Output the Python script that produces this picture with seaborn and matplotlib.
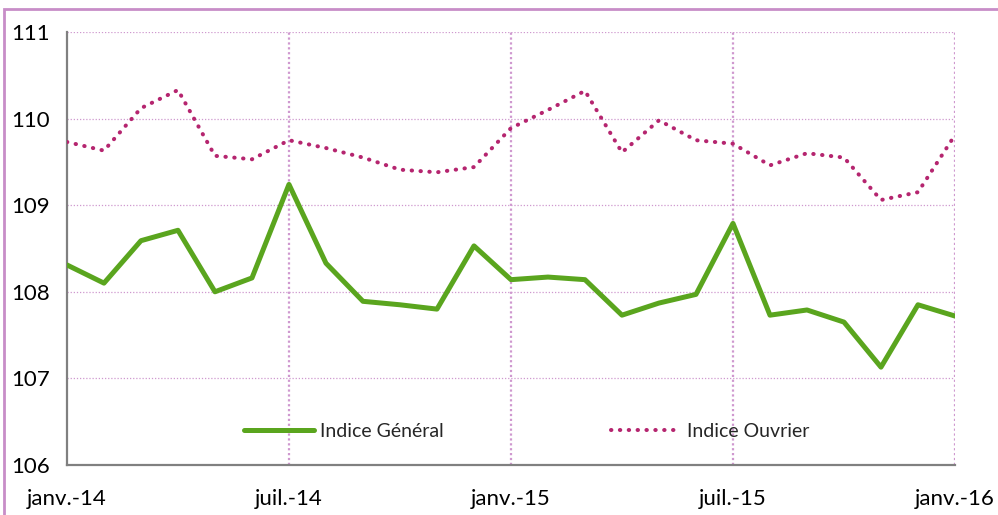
import numpy as np
import pandas as pd
import seaborn as sns
import matplotlib.pyplot as plt
from matplotlib.patches import Rectangle

# monthly values, janv.-14 .. janv.-16
months = list(range(25))
indice_general = [108.31, 108.10, 108.59, 108.71, 108.00, 108.16, 109.24,
                  108.33, 107.89, 107.85, 107.80, 108.53, 108.14, 108.17,
                  108.14, 107.73, 107.87, 107.97, 108.79, 107.73, 107.79,
                  107.65, 107.13, 107.85, 107.72]
indice_ouvrier = [109.73, 109.63, 110.12, 110.33, 109.57, 109.53, 109.75,
                  109.66, 109.55, 109.41, 109.38, 109.44, 109.89, 110.10,
                  110.32, 109.61, 109.98, 109.75, 109.71, 109.46, 109.60,
                  109.55, 109.06, 109.15, 109.81]
tick_pos = [0, 6, 12, 18, 24]
tick_labels = ["janv.-14", "juil.-14", "janv.-15", "juil.-15", "janv.-16"]
y_ticks = [106, 107, 108, 109, 110, 111]

sns.set_style("white")
plt.rcParams["font.family"] = ["Lato", "DejaVu Sans"]

df = pd.DataFrame({"mois": months,
                   "Indice Général": indice_general,
                   "Indice Ouvrier": indice_ouvrier})

fig = plt.figure(figsize=(9.98, 5.15), dpi=100)
ax = fig.add_axes([0.0671, 0.0971, 0.8898, 0.8408])

grid_col = "#cf98cf"
for y in y_ticks[1:]:
    ax.axhline(y, color=grid_col, lw=0.9, ls=(0, (1, 1.5)), zorder=1)
for x in tick_pos[1:]:
    ax.axvline(x, color=grid_col, lw=1.6, ls=(0, (1, 1.2)), zorder=1)

sns.lineplot(data=df, x="mois", y="Indice Général", ax=ax,
             color="#5aa51e", lw=3.6, label="Indice Général", zorder=3)
sns.lineplot(data=df, x="mois", y="Indice Ouvrier", ax=ax,
             color="#b5256f", lw=2.9, label="Indice Ouvrier", zorder=3,
             dashes=False)
ax.lines[-1].set_linestyle((0, (0.1, 2.1)))
ax.lines[-1].set_dash_capstyle("round")

ax.set_xlim(0, 24)
ax.set_ylim(106, 111)
ax.set_xticks(tick_pos)
ax.set_xticklabels(tick_labels)
ax.set_yticks(y_ticks)
ax.set_xlabel("")
ax.set_ylabel("")

for side in ["top", "right"]:
    ax.spines[side].set_visible(False)
for side in ["left", "bottom"]:
    ax.spines[side].set_color("#808080")
    ax.spines[side].set_linewidth(1.6)

ax.tick_params(axis="x", length=6, width=1.6, color="#808080",
               direction="out", pad=11, labelsize=16, labelcolor="black")
ax.tick_params(axis="y", length=0, pad=12, labelsize=16, labelcolor="black")

handles, labels = ax.get_legend_handles_labels()
handles[1].set_linestyle((0, (0.1, 2.1)))
handles[1].set_dash_capstyle("round")
leg = ax.legend(handles, labels, loc="lower center", ncol=2, frameon=False,
                fontsize=14, handlelength=3.6, columnspacing=8.6,
                handletextpad=0.3, bbox_to_anchor=(0.518, 0.018))

fig.patches.append(Rectangle((4 / 998, -0.1), 1.2, 1.1 - 9 / 515,
                             transform=fig.transFigure, fill=False,
                             edgecolor="#c88dc8", lw=2, zorder=10))

fig.savefig("out.png", dpi=100)
